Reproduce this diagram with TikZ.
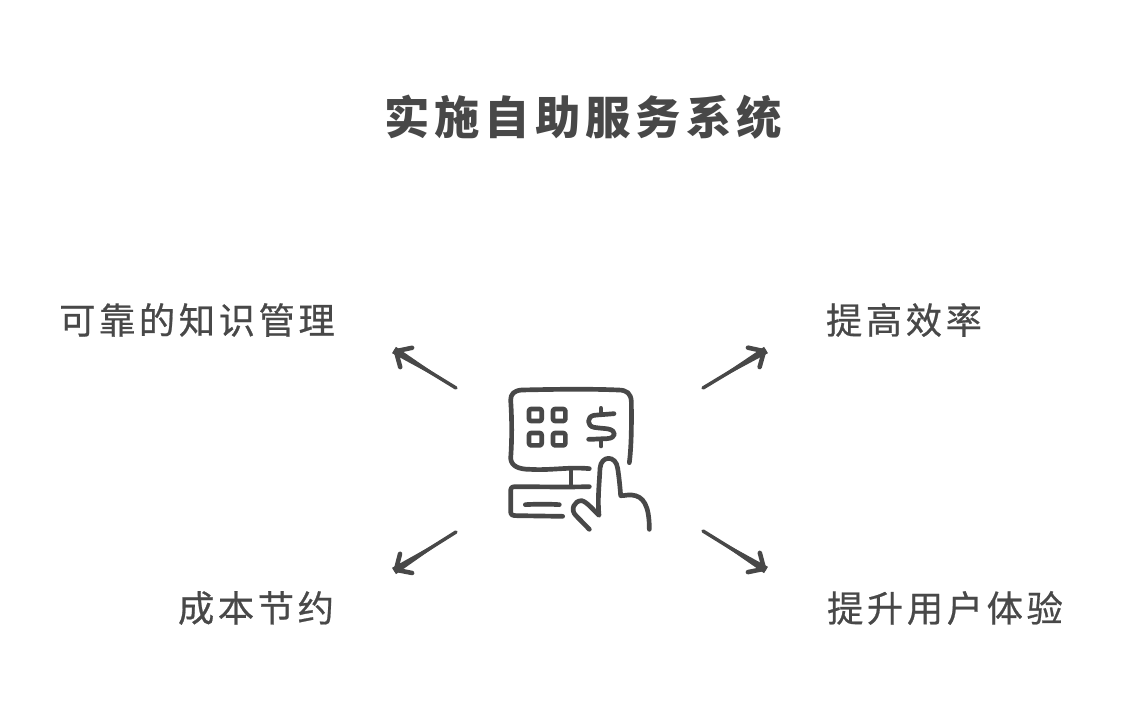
\documentclass[tikz,border=0pt]{standalone}
\usepackage{fontspec}
\usetikzlibrary{arrows.meta,calc}
\newfontfamily\cjktitle[LetterSpace=11]{Noto Sans CJK SC}
\newfontfamily\cjklabel[LetterSpace=10,FakeBold=0.6]{Noto Sans CJK SC}
\definecolor{ink}{HTML}{484848}
\tikzset{
  titletext/.style={text=ink,font=\cjktitle\bfseries\fontsize{34pt}{38pt}\selectfont,inner sep=0pt},
  labeltext/.style={text=ink,font=\cjklabel\fontsize{27.2pt}{30pt}\selectfont,inner sep=0pt},
  flow/.style={draw=ink,line width=2.6pt,line cap=round,-{Straight Barb[length=9pt,width=17pt,line width=3.4pt,round]}},
  iconline/.style={draw=ink,line width=3.5pt,line cap=round,line join=round},
}
\newcommand{\taperline}[2]{\fill[ink] (#1) -- ($(#2)!2.8pt!90:(#1)$) -- ($(#2)!2.8pt!-90:(#1)$) -- cycle;}
\begin{document}
\begin{tikzpicture}[x=.75pt,y=-.75pt]
\useasboundingbox (0,0) rectangle (1136,728);
\fill[white] (0,0) rectangle (1136,728);
\node[titletext] (title) at (583,117) {实施自助服务系统};
\node[labeltext] (ul) at (197,320) {可靠的知识管理};
\node[labeltext] (ur) at (904,320) {提高效率};
\node[labeltext] (ll) at (256,608) {成本节约};
\node[labeltext] (lr) at (945,608) {提升用户体验};
\coordinate (a1s) at (456,388); \coordinate (a1e) at (394,350);
\coordinate (a2s) at (703,388); \coordinate (a2e) at (766,350);
\coordinate (a3s) at (456,532); \coordinate (a3e) at (394,571);
\coordinate (a4s) at (703,531); \coordinate (a4e) at (766,570);
\draw[flow] (a1s) -- (a1e); \taperline{a1s}{a1e}
\draw[flow] (a2s) -- (a2e); \taperline{a2s}{a2e}
\draw[flow] (a3s) -- (a3e); \taperline{a3s}{a3e}
\draw[flow] (a4s) -- (a4e); \taperline{a4s}{a4e}
\begin{scope}[shift={(490,370)},x=.25pt,y=-.25pt]
  % screen
  \draw[iconline] (418,278) .. controls (424,230) and (425,170) .. (424,95)
    .. controls (423,70) and (410,60) .. (385,60)
    .. controls (290,56) and (190,58) .. (95,60)
    .. controls (72,62) and (62,72) .. (62,90)
    .. controls (66,150) and (66,210) .. (62,265)
    .. controls (64,288) and (85,298) .. (120,298)
    .. controls (180,302) and (240,290) .. (298,296);
  % stem and base
  \draw[iconline] (243,298) -- (243,348);
  \draw[iconline] (298,350) .. controls (220,352) and (140,350) .. (75,350)
    .. controls (64,350) and (62,355) .. (62,365)
    .. controls (62,385) and (62,405) .. (62,425)
    .. controls (62,435) and (68,437) .. (80,437) -- (218,439);
  \draw[iconline] (106,404) .. controls (140,402) and (175,402) .. (208,404);
  % squares
  \draw[iconline,rounded corners=1.5pt] (117,117) rectangle (155,153);
  \draw[iconline,rounded corners=1.5pt] (189,117) rectangle (226,153);
  \draw[iconline,rounded corners=1.5pt] (117,189) rectangle (155,226);
  \draw[iconline,rounded corners=1.5pt] (189,189) rectangle (226,226);
  % dollar
  \draw[iconline] (333,115) -- (333,132);
  \draw[iconline] (372,131) .. controls (350,133) and (330,134) .. (312,136)
    .. controls (290,140) and (290,168) .. (312,172)
    .. controls (330,175) and (345,175) .. (355,177)
    .. controls (380,182) and (380,205) .. (350,206)
    .. controls (330,206) and (315,208) .. (296,208);
  \draw[iconline] (333,208) -- (333,228);
  % hand
  \draw[iconline] (298,478) -- (258,437)
    .. controls (240,420) and (252,392) .. (275,392)
    .. controls (290,395) and (310,420) .. (327,436)
    .. controls (322,390) and (328,340) .. (330,295)
    .. controls (333,255) and (378,255) .. (383,295)
    .. controls (387,320) and (390,350) .. (392,377)
    .. controls (400,378) and (410,374) .. (425,375)
    .. controls (460,378) and (478,405) .. (478,478);
\end{scope}
\end{tikzpicture}
\end{document}
